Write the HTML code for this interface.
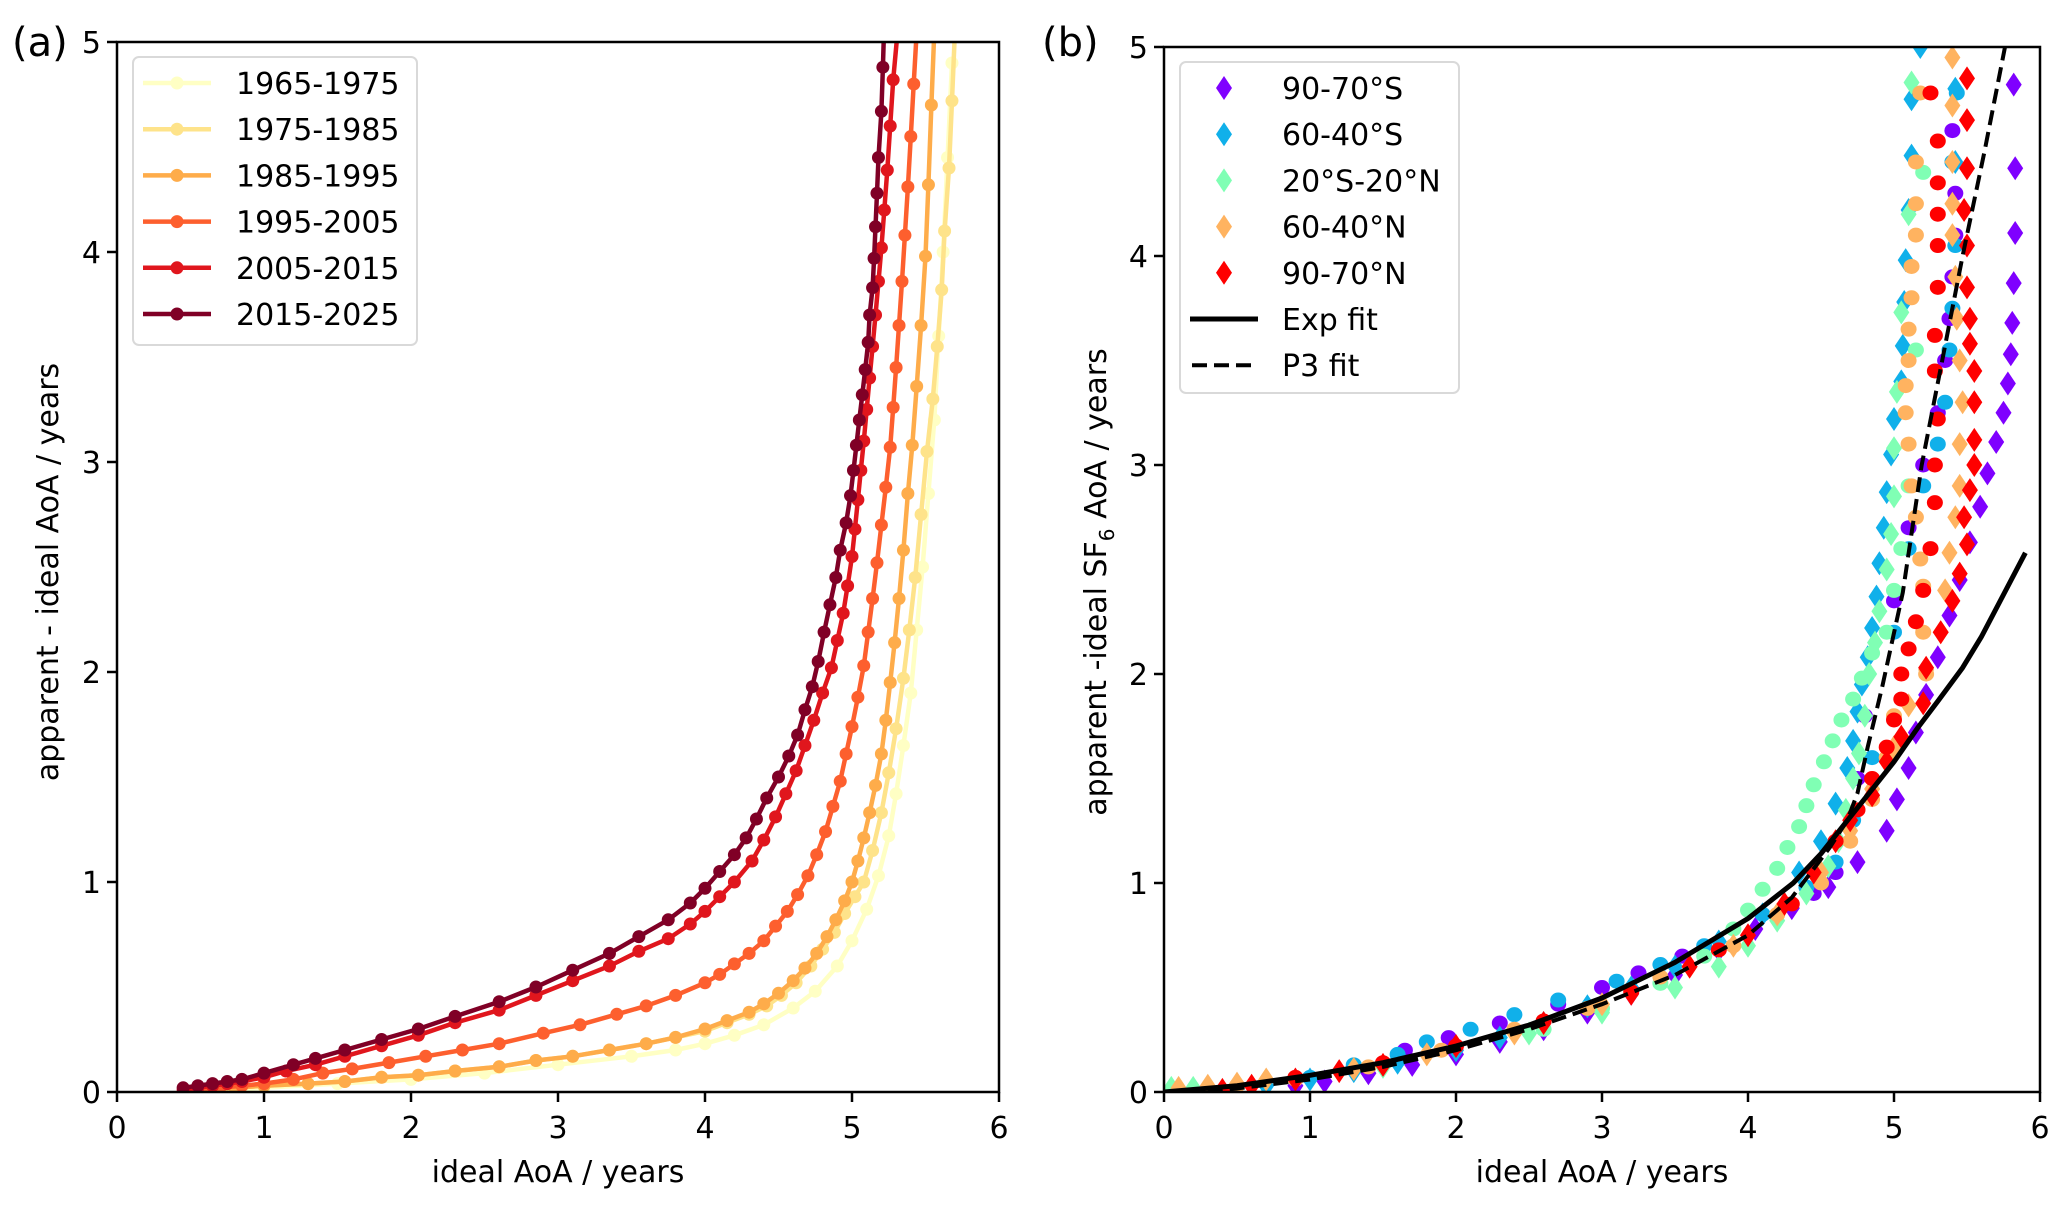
<!DOCTYPE html>
<html><head><meta charset="utf-8"><style>
html,body{margin:0;padding:0;background:#fff;}
svg{display:block;font-family:"DejaVu Sans","Liberation Sans",sans-serif;}
</style></head><body>
<svg id="fig" width="2067" height="1206" viewBox="0 0 2067 1206" xmlns="http://www.w3.org/2000/svg">
<rect width="2067" height="1206" fill="#fff"/>
<g id="pa"></g>
<g id="pb"></g>
</svg>
<script>
// ---------- Panel (a) data ----------
const aLabels = ["1965-1975","1975-1985","1985-1995","1995-2005","2005-2015","2015-2025"];
const aColors = ["#ffffc4","#fee38a","#feac4a","#fd5f2e","#e0161d","#800026"];
const a1x=[0.6,1.0,1.5,2.0,2.5,3.0,3.5,3.8,4.0,4.2,4.4,4.6,4.75,4.9,5.0,5.1,5.18,5.25,5.3,5.35,5.4,5.44,5.48,5.52,5.56,5.59,5.62,5.65,5.68];
const a1y=[0.0,0.02,0.04,0.06,0.09,0.13,0.17,0.2,0.23,0.27,0.32,0.4,0.48,0.6,0.72,0.87,1.03,1.22,1.42,1.65,1.9,2.2,2.5,2.85,3.2,3.6,4.0,4.45,4.9];
const a2x=[0.6,0.8,1.0,1.3,1.55,1.8,2.05,2.3,2.6,2.85,3.1,3.35,3.6,3.8,4.0,4.15,4.3,4.42,4.52,4.62,4.72,4.8,4.88,4.95,5.02,5.08,5.14,5.2,5.25,5.3,5.35,5.39,5.43,5.47,5.51,5.55,5.58,5.61,5.63,5.66,5.68,5.7];
const a2y=[0.01,0.02,0.03,0.04,0.05,0.07,0.08,0.1,0.12,0.15,0.17,0.2,0.23,0.26,0.29,0.33,0.37,0.41,0.46,0.52,0.6,0.68,0.76,0.85,0.93,1.0,1.15,1.33,1.52,1.73,1.97,2.2,2.45,2.75,3.05,3.3,3.55,3.82,4.1,4.4,4.72,5.05];
const a3x=[0.6,0.8,1.0,1.3,1.55,1.8,2.05,2.3,2.6,2.85,3.1,3.35,3.6,3.8,4.0,4.15,4.3,4.4,4.5,4.6,4.68,4.76,4.83,4.89,4.95,5.0,5.04,5.08,5.12,5.16,5.2,5.23,5.26,5.29,5.32,5.35,5.38,5.41,5.44,5.47,5.5,5.52,5.54,5.56];
const a3y=[0.01,0.02,0.03,0.04,0.05,0.07,0.08,0.1,0.12,0.15,0.17,0.2,0.23,0.26,0.3,0.34,0.38,0.42,0.47,0.53,0.59,0.66,0.74,0.82,0.91,1.0,1.1,1.21,1.33,1.46,1.61,1.77,1.95,2.14,2.35,2.58,2.85,3.08,3.36,3.65,3.98,4.32,4.7,5.05];
const a4x=[0.55,0.7,0.85,1.0,1.2,1.4,1.6,1.85,2.1,2.35,2.6,2.9,3.15,3.4,3.6,3.8,4.0,4.1,4.2,4.3,4.4,4.48,4.56,4.63,4.7,4.76,4.82,4.87,4.92,4.96,5.0,5.04,5.08,5.11,5.14,5.17,5.2,5.23,5.26,5.28,5.3,5.32,5.34,5.36,5.38,5.4,5.42,5.44];
const a4y=[0.01,0.02,0.03,0.04,0.06,0.09,0.11,0.14,0.17,0.2,0.23,0.28,0.32,0.37,0.41,0.46,0.52,0.56,0.61,0.66,0.72,0.79,0.86,0.94,1.03,1.13,1.24,1.36,1.48,1.61,1.74,1.88,2.03,2.19,2.35,2.52,2.7,2.88,3.07,3.26,3.45,3.65,3.86,4.08,4.31,4.55,4.8,5.05];
const a5x=[0.45,0.55,0.65,0.75,0.85,1.0,1.15,1.35,1.55,1.8,2.05,2.3,2.6,2.85,3.1,3.35,3.55,3.75,3.9,4.0,4.1,4.2,4.32,4.4,4.48,4.55,4.62,4.68,4.74,4.8,4.86,4.9,4.94,4.97,5.0,5.02,5.04,5.06,5.08,5.1,5.12,5.14,5.16,5.18,5.2,5.22,5.24,5.26,5.28,5.31];
const a5y=[0.01,0.02,0.03,0.04,0.05,0.07,0.1,0.13,0.17,0.22,0.27,0.33,0.39,0.46,0.53,0.6,0.67,0.73,0.8,0.86,0.93,1.0,1.1,1.2,1.31,1.42,1.53,1.65,1.77,1.9,2.02,2.15,2.28,2.41,2.55,2.68,2.82,2.96,3.1,3.25,3.4,3.55,3.7,3.86,4.02,4.2,4.39,4.6,4.82,5.05];
const a6x=[0.45,0.55,0.65,0.75,0.85,1.0,1.2,1.35,1.55,1.8,2.05,2.3,2.6,2.85,3.1,3.35,3.55,3.75,3.9,4.0,4.1,4.2,4.28,4.35,4.42,4.5,4.57,4.63,4.68,4.73,4.77,4.81,4.85,4.89,4.92,4.96,4.99,5.01,5.03,5.05,5.07,5.09,5.11,5.12,5.14,5.15,5.16,5.17,5.18,5.2,5.21,5.22];
const a6y=[0.02,0.03,0.04,0.05,0.06,0.09,0.13,0.16,0.2,0.25,0.3,0.36,0.43,0.5,0.58,0.66,0.74,0.82,0.9,0.97,1.05,1.13,1.21,1.3,1.4,1.5,1.6,1.7,1.82,1.93,2.05,2.19,2.32,2.45,2.58,2.71,2.84,2.96,3.08,3.2,3.32,3.44,3.57,3.7,3.83,3.97,4.12,4.28,4.45,4.67,4.88,5.1];
const aXs=[a1x,a2x,a3x,a4x,a5x,a6x];
const aYs=[a1y,a2y,a3y,a4y,a5y,a6y];

// ---------- Panel (b) data ----------
const bLabels=["90-70°S","60-40°S","20°S-20°N","60-40°N","90-70°N"];
const bColors=["#7f00ff","#10b0ea","#80ffb4","#ffb360","#ff0000"];
const dPx=[0.9,1.1,1.4,1.7,2,2.3,2.6,2.9,3.2,3.5,3.8,4.05,4.3,4.55,4.75,4.95,5.02,5.1,5.15,5.22,5.3,5.38,5.45,5.52,5.59,5.64,5.7,5.75,5.78,5.8,5.81,5.82,5.83,5.83,5.82];
const dPy=[0.03,0.05,0.09,0.13,0.18,0.24,0.3,0.38,0.47,0.56,0.68,0.78,0.88,0.98,1.1,1.25,1.4,1.55,1.72,1.9,2.08,2.28,2.45,2.63,2.8,2.96,3.11,3.25,3.39,3.53,3.68,3.87,4.11,4.42,4.82];
const cPx=[1.3,1.65,1.95,2.3,2.7,3.0,3.25,3.55,4.45,4.6,4.75,4.8,5.0,5.1,5.2,5.3,5.35,5.38,5.4,5.42,5.42,5.4];
const cPy=[0.12,0.2,0.26,0.33,0.42,0.5,0.57,0.65,0.95,1.05,1.5,1.8,2.35,2.7,3.0,3.25,3.5,3.7,3.9,4.1,4.3,4.6];
const dBx=[0.7,1.0,1.3,1.6,2.0,2.3,2.6,2.9,3.2,3.5,3.8,4.1,4.35,4.5,4.6,4.68,4.72,4.75,4.78,4.82,4.85,4.88,4.9,4.93,4.95,4.98,5.0,5.05,5.06,5.07,5.08,5.1,5.12,5.12,5.18,5.42,5.42];
const dBy=[0.03,0.06,0.1,0.14,0.2,0.26,0.33,0.41,0.5,0.6,0.72,0.85,1.05,1.2,1.38,1.55,1.68,1.82,1.95,2.08,2.22,2.37,2.53,2.7,2.87,3.05,3.22,3.4,3.57,3.78,3.98,4.22,4.48,4.75,5.0,4.45,4.8];
const cBx=[1.0,1.3,1.6,1.8,2.1,2.4,2.7,3.1,3.4,3.7,4.1,4.4,4.6,4.72,4.85,5.0,5.1,5.2,5.3,5.35,5.38,5.4,5.42,5.4,5.43];
const cBy=[0.07,0.13,0.18,0.24,0.3,0.37,0.44,0.53,0.61,0.7,0.85,0.98,1.1,1.3,1.6,2.2,2.6,2.9,3.1,3.3,3.55,3.75,4.05,4.45,4.78];
const dGx=[0.05,0.2,1.5,2.5,3.0,3.5,3.8,4.0,4.2,4.4,4.55,4.62,4.67,4.72,4.76,4.8,4.83,4.87,4.9,4.95,4.98,5.0,5.0,5.02,5.05,5.1,5.12];
const dGy=[0.02,0.02,0.12,0.28,0.38,0.5,0.6,0.7,0.82,0.95,1.08,1.2,1.35,1.5,1.62,1.8,2.0,2.15,2.3,2.5,2.67,2.85,3.08,3.35,3.73,4.2,4.83];
const cGx=[2.6,3.0,3.4,3.7,3.9,4.0,4.1,4.2,4.27,4.35,4.4,4.45,4.52,4.58,4.64,4.72,4.78,4.85,4.95,5.0,5.05,5.1,5.15,5.2];
const cGy=[0.3,0.4,0.52,0.65,0.78,0.87,0.97,1.07,1.17,1.27,1.37,1.47,1.58,1.68,1.78,1.88,1.98,2.1,2.2,2.4,2.6,2.9,3.55,4.4];
const dOx=[0.1,0.3,0.5,0.7,1.3,1.8,2.4,3.0,3.6,3.9,4.2,4.5,4.7,4.85,5.0,5.1,5.22,5.32,5.35,5.38,5.42,5.45,5.45,5.47,5.45,5.43,5.42,5.4,5.4,5.4,5.4,5.4];
const dOy=[0.02,0.03,0.04,0.06,0.11,0.18,0.28,0.42,0.6,0.7,0.85,1.05,1.25,1.45,1.65,1.85,2.02,2.2,2.4,2.58,2.75,2.9,3.1,3.3,3.5,3.7,3.9,4.1,4.25,4.45,4.72,4.95];
const cOx=[0.5,0.9,1.4,1.9,2.4,2.9,3.4,3.9,4.2,4.5,4.7,4.85,4.95,5.0,5.22,5.2,5.2,5.18,5.15,5.12,5.1,5.08,5.08,5.1,5.1,5.12,5.12,5.15,5.15,5.15,5.18];
const cOy=[0.03,0.06,0.12,0.2,0.3,0.4,0.55,0.7,0.85,1.0,1.2,1.4,1.6,1.8,2.0,2.2,2.42,2.55,2.75,2.9,3.1,3.25,3.38,3.5,3.65,3.8,3.95,4.1,4.25,4.45,4.78];
const dRx=[0.4,0.6,0.9,1.2,1.5,2.0,2.6,3.2,3.6,4.0,4.25,4.45,4.6,4.7,4.85,4.95,5.05,5.2,5.22,5.32,5.4,5.45,5.5,5.48,5.52,5.55,5.55,5.55,5.55,5.52,5.52,5.5,5.5,5.48,5.5,5.5,5.5];
const dRy=[0.01,0.03,0.06,0.1,0.13,0.22,0.33,0.47,0.6,0.75,0.9,1.05,1.2,1.3,1.42,1.58,1.7,1.86,2.03,2.2,2.35,2.48,2.62,2.75,2.88,3.0,3.12,3.3,3.45,3.58,3.7,3.85,4.05,4.22,4.42,4.65,4.85];
const cRx=[0.9,1.5,2.0,2.6,3.2,3.8,4.3,4.6,4.75,4.85,4.95,5.0,5.05,5.05,5.1,5.15,5.2,5.25,5.28,5.28,5.3,5.28,5.28,5.3,5.3,5.3,5.3,5.3,5.25];
const cRy=[0.07,0.14,0.22,0.34,0.48,0.68,0.9,1.2,1.35,1.5,1.65,1.78,1.88,2.0,2.12,2.25,2.4,2.6,2.82,3.0,3.22,3.45,3.62,3.85,4.05,4.2,4.35,4.55,4.78];
const dXs=[dPx,dBx,dGx,dOx,dRx], dYs=[dPy,dBy,dGy,dOy,dRy];
const cXs=[cPx,cBx,cGx,cOx,cRx], cYs=[cPy,cBy,cGy,cOy,cRy];
const expX=[0,0.5,1,1.5,2,2.5,3,3.5,4,4.31,4.5,4.75,5.0,5.16,5.3,5.47,5.6,5.75,5.9];
const expY=[0,0.03,0.08,0.14,0.22,0.32,0.45,0.62,0.83,1.0,1.14,1.36,1.58,1.74,1.87,2.03,2.18,2.38,2.58];
const p3X=[0.3,1,1.5,2,2.5,3,3.5,4,4.3,4.56,4.68,4.75,4.82,4.92,5.06,5.19,5.33,5.47,5.62,5.76];
const p3Y=[0,0.06,0.12,0.2,0.3,0.42,0.56,0.75,0.93,1.17,1.3,1.43,1.65,1.94,2.39,3.0,3.5,4.0,4.5,5.0];
const xTicks=[0,1,2,3,4,5,6];
const yTicks=[0,1,2,3,4,5];

const NS="http://www.w3.org/2000/svg";
function el(tag,attrs,parent,txt){const e=document.createElementNS(NS,tag);for(const k in attrs)e.setAttribute(k,attrs[k]);if(txt!==undefined)e.textContent=txt;parent.appendChild(e);return e;}

function makeAxes(g,L,R,T,B){
  const sx=v=>L+(R-L)*v/6, sy=v=>B-(B-T)*v/5;
  const clip=el('clipPath',{id:g.id+'clip'},g);
  el('rect',{x:L,y:T,width:R-L,height:B-T},clip);
  const plot=el('g',{'clip-path':'url(#'+g.id+'clip)'},g);
  
  
  return {sx,sy,plot};
}
function drawFrame(g,L,R,T,B,sx,sy){
  const fr=el('rect',{x:L,y:T,width:R-L,height:B-T,fill:'none',stroke:'#000','stroke-width':2.5},g);
  
  
  xTicks.forEach(v=>{
    el('line',{x1:sx(v),x2:sx(v),y1:B,y2:B+10,stroke:'#000','stroke-width':2.5},g);
    const t=el('text',{x:sx(v),y:B+46,'font-size':30,'text-anchor':'middle'},g,String(v));
    
    
  });
  yTicks.forEach(v=>{
    el('line',{x1:L-10,x2:L,y1:sy(v),y2:sy(v),stroke:'#000','stroke-width':2.5},g);
    const t=el('text',{x:L-16,y:sy(v)+11,'font-size':30,'text-anchor':'end'},g,String(v));
    
    
  });
}

// ----- Panel a -----
(function(){
  const g=document.getElementById('pa');
  const L=117,R=999,T=42,B=1092;
  const {sx,sy,plot}=makeAxes(g,L,R,T,B);
  aXs.forEach((xs,i)=>{
    const s=el('g',{},plot);
    
    
    const pts=xs.map((x,j)=>sx(x).toFixed(1)+','+sy(aYs[i][j]).toFixed(1)).join(' ');
    el('polyline',{points:pts,fill:'none',stroke:aColors[i],'stroke-width':4.5},s);
    xs.forEach((x,j)=>{
      const c=el('circle',{cx:sx(x),cy:sy(aYs[i][j]),r:6.5,fill:aColors[i]},s);
      
      
    });
  });
  drawFrame(g,L,R,T,B,sx,sy);
  const lg=el('g',{},g);
  
  
  el('rect',{x:133,y:57,width:284,height:288,rx:6,fill:'#fff','fill-opacity':0.85,stroke:'#d9d9d9','stroke-width':2},lg);
  aLabels.forEach((lab,i)=>{
    const y=83+i*46.2;
    const e=el('g',{},lg);
    
    
    el('line',{x1:143,x2:211,y1:y,y2:y,stroke:aColors[i],'stroke-width':4.5},e);
    el('circle',{cx:177,cy:y,r:6.5,fill:aColors[i]},e);
    el('text',{x:236,y:y+11,'font-size':30},e,lab);
  });
  const ta=el('text',{x:12,y:56,'font-size':40},g,'(a)');
  
  
  const xl=el('text',{x:(L+R)/2,y:1182,'font-size':30,'text-anchor':'middle'},g,'ideal AoA / years');
  
  
  const yl=el('text',{x:0,y:0,'font-size':30,'text-anchor':'middle',transform:'translate(58,572) rotate(-90)'},g,'apparent - ideal AoA  / years');
  
  
})();

// ----- Panel b -----
function diamond(p,x,y,col){
  return el('polygon',{points:`${x},${y-12} ${x+8},${y} ${x},${y+12} ${x-8},${y}`,fill:col},p);
}
(function(){
  const g=document.getElementById('pb');
  const L=1164,R=2040,T=47,B=1092;
  const {sx,sy,plot}=makeAxes(g,L,R,T,B);
  for(let i=0;i<5;i++){
    const s=el('g',{},plot);
    
    
    dXs[i].forEach((x,j)=>{
      const d=diamond(s,sx(x),sy(dYs[i][j]),bColors[i]);
      
      
    });
    cXs[i].forEach((x,j)=>{
      const c=el('ellipse',{cx:sx(x),cy:sy(cYs[i][j]),rx:8,ry:7.5,fill:bColors[i]},s);
      
      
    });
  }
  const ef=el('polyline',{points:expX.map((x,j)=>sx(x).toFixed(1)+','+sy(expY[j]).toFixed(1)).join(' '),fill:'none',stroke:'#000','stroke-width':5,'stroke-linejoin':'round'},plot);
  
  
  const pf=el('polyline',{points:p3X.map((x,j)=>sx(x).toFixed(1)+','+sy(p3Y[j]).toFixed(1)).join(' '),fill:'none',stroke:'#000','stroke-width':4,'stroke-dasharray':'15,7'},plot);
  
  
  drawFrame(g,L,R,T,B,sx,sy);
  const lg=el('g',{},g);
  
  
  el('rect',{x:1180,y:62,width:279,height:331,rx:6,fill:'#fff','fill-opacity':0.85,stroke:'#d9d9d9','stroke-width':2},lg);
  const labs=bLabels.concat(['Exp fit','P3 fit']);
  labs.forEach((lab,i)=>{
    const y=88+i*46.2;
    const e=el('g',{},lg);
    
    
    if(i<5) diamond(e,1224,y,bColors[i]);
    else if(i===5) el('line',{x1:1190,x2:1258,y1:y,y2:y,stroke:'#000','stroke-width':5},e);
    else el('line',{x1:1192,x2:1258,y1:y,y2:y,stroke:'#000','stroke-width':4,'stroke-dasharray':'15,7'},e);
    el('text',{x:1282,y:y+11,'font-size':30},e,lab);
  });
  const tb=el('text',{x:1042,y:56,'font-size':40},g,'(b)');
  
  
  const xl=el('text',{x:(L+R)/2,y:1182,'font-size':30,'text-anchor':'middle','xml:space':'preserve'},g,'ideal AoA  / years');
  
  
  const yl=el('text',{x:0,y:0,'font-size':30,'text-anchor':'middle',transform:'translate(1106,582) rotate(-90)'},g);
  
  
  el('tspan',{},yl,'apparent -ideal SF');
  el('tspan',{'font-size':20,dy:8},yl,'6');
  el('tspan',{dy:-8},yl,' AoA / years');
})();
</script>
</body></html>
